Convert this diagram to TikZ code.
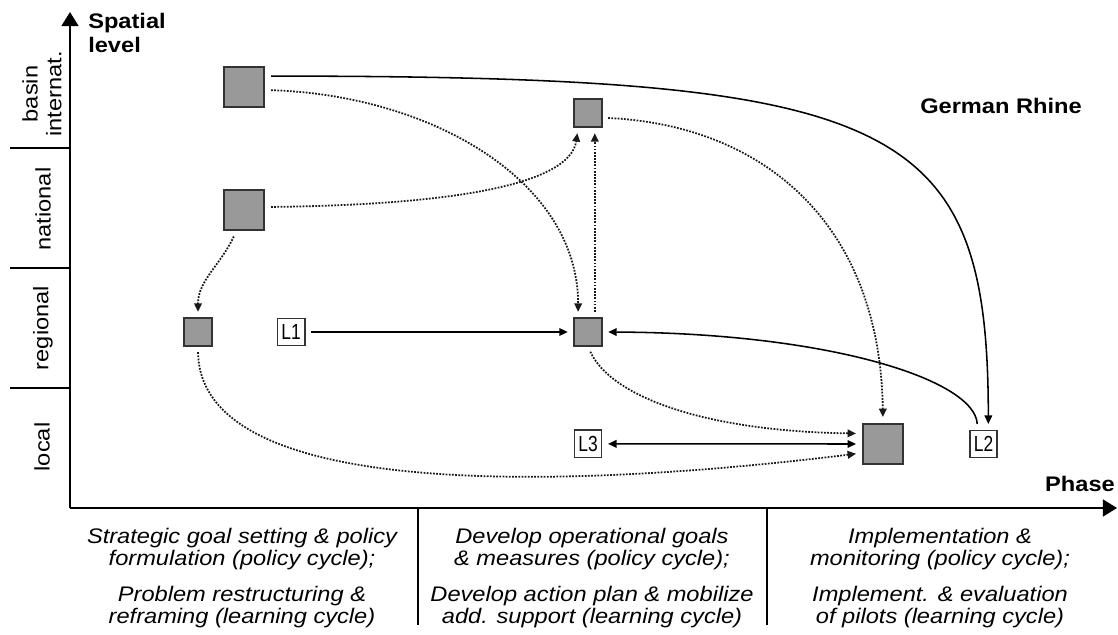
\documentclass[tikz,border=0pt]{standalone}
\usepackage{fontspec}
\setmainfont{Liberation Sans}[FakeStretch=1.12]
\newfontfamily\boxfont{Liberation Sans}[FakeStretch=0.8]
\usetikzlibrary{positioning,arrows.meta}

\begin{document}
\begin{tikzpicture}[
  x=0.025cm, y=0.025cm,
  >={Triangle[length=6pt,width=5.4pt]},
  axisstyle/.style={
        line width=1.4pt,
        -{Triangle[length=10pt,width=12pt]}
  },
  titlestyle/.style={
        inner sep=0pt,
        font=\fontsize{15}{17}\selectfont\bfseries
  },
  levelstyle/.style={
        rotate=90,
        align=center,
        inner sep=0pt,
        font=\fontsize{15}{17}\selectfont
  },
  phasestyle/.style={
        align=center,
        anchor=north,
        inner sep=0pt,
        font=\fontsize{15}{15.6}\selectfont\itshape
  },
  bigbox/.style={
        draw=black!80,
        fill=black!40,
        line width=1.4pt,
        minimum size=1.02cm
  },
  smallbox/.style={
        bigbox,
        minimum size=0.68cm
  },
  lbox/.style={
        draw=black!80,
        fill=white,
        line width=1.2pt,
        minimum size=0.68cm,
        inner sep=0pt,
        font=\boxfont\fontsize{15.5}{15.5}\selectfont
  },
  link/.style={
        line width=1.1pt,
        shorten <=4pt,
        shorten >=4pt,
        ->
  },
  dotlink/.style={
        link,
        line width=1.25pt,
        densely dotted,
        draw=black!90
  }
]

    \useasboundingbox (0,0) rectangle (1118,634);

    \coordinate (O) at (70,126);
    \coordinate (Ytop) at (70,622);
    \coordinate (Xend) at (1117,126);

    \draw[axisstyle] (O) -- (Ytop);
    \draw[axisstyle] (O) -- (Xend);

    \foreach \y in {486,366,246}
        \draw[line width=1.4pt] (10,\y) -- (70,\y);
    \foreach \x in {418,767}
        \draw[line width=1.2pt] (\x,126) -- (\x,9);

    \node[titlestyle, align=left, anchor=north west] (Spatial) at (88,621) {Spatial\\level};
    \node[titlestyle] (Phase) at (1080,150.5) {Phase};
    \node[titlestyle] (Rhine) at (1001,528) {German Rhine};

    \node[levelstyle] (Lev_int) at (42,540) {basin\\internat.};
    \node[levelstyle] (Lev_nat) at (43,425) {national};
    \node[levelstyle] (Lev_reg) at (43,306) {regional};
    \node[levelstyle] (Lev_loc) at (42,187) {local};

    \node[phasestyle] (Ph_1) at (242,106) {Strategic goal setting \& policy\\formulation (policy cycle);\\[10pt]Problem restructuring \&\\reframing (learning cycle)};
    \node[phasestyle] (Ph_2) at (592,106) {Develop operational goals\\\& measures (policy cycle);\\[10pt]Develop action plan \& mobilize\\add. support (learning cycle)};
    \node[phasestyle] (Ph_3) at (940,106) {Implementation \&\\monitoring (policy cycle);\\[10pt]Implement. \& evaluation\\of pilots (learning cycle)};

    \node[bigbox] (I_1) at (244,547) {};
    \node[bigbox] (N_1) at (244,424) {};
    \node[smallbox] (R_1) at (198,302) {};
    \node[lbox, right=1.6cm of R_1] (L_1) {L1};
    \node[smallbox] (I_2) at (588,521) {};
    \node[smallbox] (R_2) at (588,302) {};
    \node[lbox, below=2.07cm of R_2] (L_3) {L3};
    \node[bigbox] (Lo_1) at (883,190) {};
    \node[lbox, right=1.62cm of Lo_1] (L_2) {L2};

    \draw[link] (I_1.27) .. controls (900,558) and (988,514) .. (L_2.72);
    \draw[dotlink] (I_1.-8) .. controls (430,539) and (578,454) .. (R_2.124);
    \draw[dotlink] (N_1.8) .. controls (450,429) and (570,449) .. (I_2.-124);
    \draw[dotlink] (R_2.65) -- (I_2.-65);
    \draw[dotlink] (N_1.-110) to[out=-115, in=90] (R_1.north);
    \draw[link] (L_1) -- (R_2);
    \draw[dotlink] (I_2.-18) .. controls (760,509) and (880,414) .. (Lo_1.north);
    \draw[link] (L_2.113) .. controls (975,254) and (830,301) .. (R_2.east);
    \draw[dotlink] (R_2.south) .. controls (610,239) and (700,203) .. (Lo_1.154);
    \draw[link, <->] (L_3) -- (Lo_1);
    \draw[dotlink] (R_1.south) .. controls (200,134) and (560,144) .. (Lo_1.-157);
\end{tikzpicture}
\end{document}
